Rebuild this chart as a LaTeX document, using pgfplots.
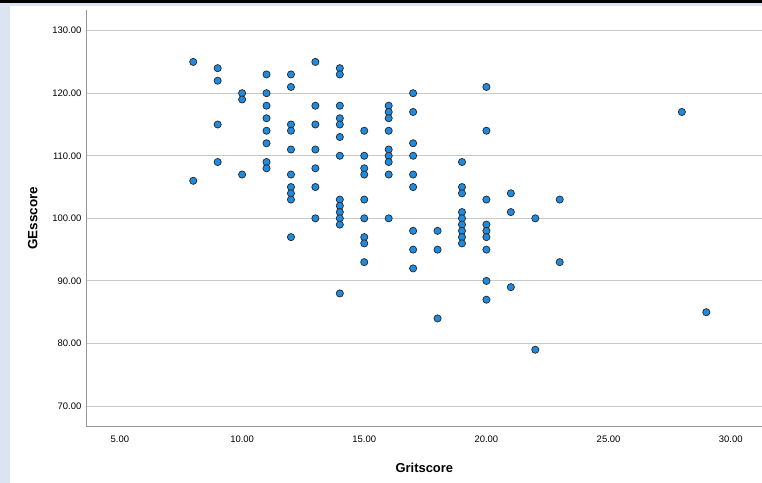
\documentclass[border=0pt]{standalone}
\usepackage{fontspec}
\setmainfont{Liberation Sans}
\usepackage{pgfplots}
\pgfplotsset{compat=1.18}
\definecolor{dotblue}{RGB}{30,139,224}
\definecolor{stripblue}{RGB}{220,228,244}
\definecolor{gridgray}{RGB}{200,200,200}
\definecolor{axgray}{RGB}{150,150,150}
\pgfplotstableread{
x y
8 125
8 106
9 124
9 122
9 115
9 109
10 120
10 119
10 107
11 123
11 120
11 118
11 116
11 114
11 112
11 109
11 108
12 123
12 121
12 115
12 114
12 111
12 107
12 105
12 104
12 103
12 97
13 125
13 118
13 115
13 111
13 108
13 105
13 100
14 124
14 123
14 118
14 116
14 115
14 113
14 110
14 103
14 102
14 101
14 100
14 99
14 88
15 114
15 110
15 108
15 107
15 103
15 100
15 97
15 96
15 93
16 118
16 117
16 116
16 114
16 111
16 110
16 109
16 107
16 100
17 120
17 117
17 112
17 110
17 107
17 105
17 98
17 95
17 92
18 98
18 95
18 84
19 109
19 105
19 104
19 101
19 100
19 99
19 98
19 97
19 96
20 121
20 114
20 103
20 99
20 98
20 97
20 95
20 90
20 87
21 104
21 101
21 89
22 100
22 79
23 103
23 93
28 117
29 85
}\datatable
\begin{document}
\begin{tikzpicture}[x=1bp,y=1bp]
\useasboundingbox (0,0) rectangle (762,483);
\fill[white] (0,0) rectangle (762,483);
\fill[stripblue] (0,0) rectangle (10,480);
\fill[stripblue] (0,477) rectangle (762,480);
\fill[black] (0,480) rectangle (762,483);
\begin{axis}[
  at={(86.7bp,56.3bp)}, anchor=south west,
  scale only axis, width=675.3bp, height=416.7bp,
  xmin=3.64, xmax=31.28, ymin=66.7, ymax=133.3,
  axis x line=bottom, axis y line=left,
  axis line style={-, axgray, line width=1.3bp},
  xtick={5,10,...,30}, ytick={70,80,...,130},
  ymajorgrids, major grid style={gridgray, line width=1bp},
  major tick length=0pt,
  /pgf/number format/fixed, /pgf/number format/fixed zerofill,
  /pgf/number format/precision=2, /pgf/number format/assume math mode=true,
  xticklabel style={font=\fontsize{9.5}{11}\selectfont, yshift=-5.5bp},
  yticklabel style={font=\fontsize{9.5}{11}\selectfont, xshift=-1.8bp},
  xlabel={Gritscore}, ylabel={GEsscore},
  xlabel style={font=\fontsize{13}{15}\selectfont\bfseries, at={([yshift=-41.3bp]axis description cs:0.5,0)}, anchor=center},
  ylabel style={font=\fontsize{13.5}{15}\selectfont\bfseries, at={([xshift=-54bp]axis description cs:0,0.5)}, anchor=center},
  clip=false,
]
\addplot[only marks, mark=*, mark size=3.6bp, mark options={fill=dotblue, draw=black!85, line width=0.7bp}] table[x=x,y=y] {\datatable};
\end{axis}
\end{tikzpicture}
\end{document}
